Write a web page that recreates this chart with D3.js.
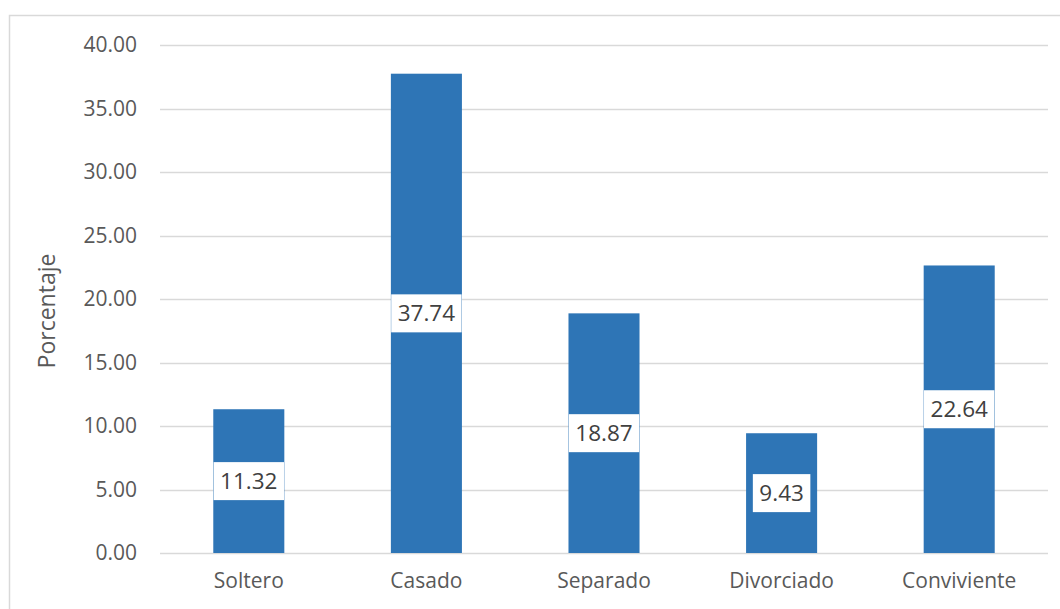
<!DOCTYPE html>
<html>
<head>
<meta charset="utf-8">
<script src="https://cdn.jsdelivr.net/npm/d3@7"></script>
<style>
  body { margin: 0; background: #fff; }
  svg { display: block; font-family: "Open Sans", sans-serif; }
</style>
</head>
<body>
<svg id="chart"></svg>
<script>
const categories = ["Soltero", "Casado", "Separado", "Divorciado", "Conviviente"];
const values = [11.32, 37.74, 18.87, 9.43, 22.64];
const yTicks = [0, 5, 10, 15, 20, 25, 30, 35, 40];
const yTitle = "Porcentaje";

const width = 1060;
const height = 609;
const margin = { top: 45, right: 12, bottom: 56, left: 160 };

const svg = d3.select("#chart")
  .attr("width", width)
  .attr("height", height);

// chart frame (cropped at right/bottom like the original)
svg.append("rect")
  .attr("x", 9.5)
  .attr("y", 15.5)
  .attr("width", 1200)
  .attr("height", 800)
  .attr("fill", "none")
  .attr("stroke", "#d9d9d9")
  .attr("stroke-width", 1.5);

const xScale = d3.scaleBand()
  .domain(categories)
  .range([margin.left, width - margin.right])
  .paddingInner(0.6)
  .paddingOuter(0.3);

const yScale = d3.scaleLinear()
  .domain([0, 40])
  .range([height - margin.bottom, margin.top]);

// gridlines
svg.append("g")
  .selectAll("line")
  .data(yTicks)
  .enter()
  .append("line")
    .attr("x1", margin.left)
    .attr("x2", width - margin.right)
    .attr("y1", d => Math.round(yScale(d)) + 0.5)
    .attr("y2", d => Math.round(yScale(d)) + 0.5)
    .attr("stroke", "#d9d9d9")
    .attr("stroke-width", 1.3);

// y axis labels
const yAxis = svg.append("g")
  .attr("transform", `translate(${margin.left - 23},0)`)
  .call(d3.axisLeft(yScale).tickValues(yTicks).tickFormat(d3.format(".2f")).tickSize(0).tickPadding(0));
yAxis.select(".domain").remove();
yAxis.selectAll("text")
  .attr("font-family", "Open Sans, sans-serif")
  .attr("font-size", 21)
  .attr("fill", "#595959");

// x axis labels
const xAxis = svg.append("g")
  .attr("transform", `translate(0,${height - margin.bottom})`)
  .call(d3.axisBottom(xScale).tickSize(0).tickPadding(20));
xAxis.select(".domain").remove();
xAxis.selectAll("text")
  .attr("font-family", "Open Sans, sans-serif")
  .attr("font-size", 21)
  .attr("fill", "#595959");

// y title
svg.append("text")
  .attr("transform", `translate(55,${(margin.top + height - margin.bottom) / 2 + 12}) rotate(-90)`)
  .attr("text-anchor", "middle")
  .attr("font-size", 23)
  .attr("fill", "#595959")
  .text(yTitle);

const data = categories.map((c, i) => ({ c, v: values[i] }));

// bars
svg.selectAll(".bar")
  .data(data)
  .enter()
  .append("rect")
    .classed("bar", true)
    .attr("x", d => xScale(d.c))
    .attr("y", d => yScale(d.v))
    .attr("width", xScale.bandwidth())
    .attr("height", d => yScale(0) - yScale(d.v))
    .attr("fill", "#2e75b6");

// data labels with white boxes at bar middle
const labels = svg.selectAll(".lbl")
  .data(data)
  .enter()
  .append("g")
    .classed("lbl", true)
    .attr("transform", d => `translate(${xScale(d.c) + xScale.bandwidth() / 2},${(yScale(d.v) + yScale(0)) / 2})`);

labels.append("rect").attr("fill", "#fff");
labels.append("text")
  .attr("text-anchor", "middle")
  .attr("dy", "0.36em")
  .attr("font-size", 22.5)
  .attr("fill", "#404040")
  .text(d => d3.format(".2f")(d.v));

labels.each(function() {
  const g = d3.select(this);
  const w = g.select("text").node().getComputedTextLength() + 13;
  g.select("rect")
    .attr("x", -w / 2)
    .attr("y", -19)
    .attr("width", w)
    .attr("height", 38);
});
</script>
</body>
</html>
